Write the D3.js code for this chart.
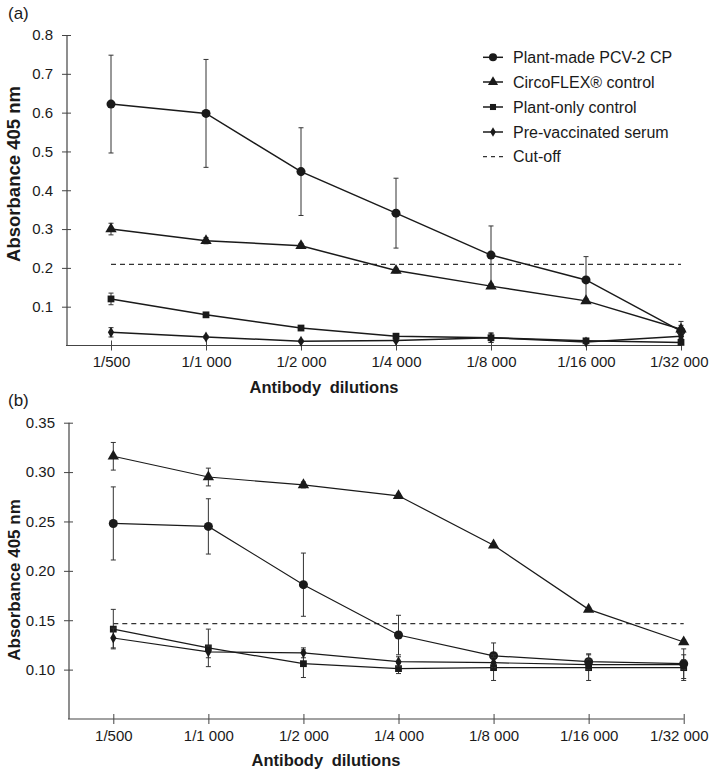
<!DOCTYPE html>
<html>
<head>
<meta charset="utf-8">
<script src="https://cdnjs.cloudflare.com/ajax/libs/d3/7.8.5/d3.min.js"></script>
<style>
  body { margin: 0; background: #fff; }
  svg { display: block; font-family: "Liberation Sans", Arial, sans-serif; }
</style>
</head>
<body>
<div id="chart"></div>
<script>
// categories shared by both panels
var dilutions = ["1/500", "1/1 000", "1/2 000", "1/4 000", "1/8 000", "1/16 000", "1/32 000"];
var seriesNames = ["Plant-made PCV-2 CP", "CircoFLEX® control", "Plant-only control", "Pre-vaccinated serum"];
var symbols = ["circle", "triangle", "square", "diamond"];

// panel (a) means and SDs
var aPcv   = [0.622, 0.598, 0.448, 0.341, 0.233, 0.169, 0.037];
var aCirco = [0.300, 0.270, 0.257, 0.193, 0.153, 0.115, 0.042];
var aPlant = [0.120, 0.079, 0.045, 0.024, 0.020, 0.012, 0.008];
var aPre   = [0.034, 0.022, 0.011, 0.013, 0.020, 0.009, 0.024];
var aPcvSd   = [0.126, 0.139, 0.113, 0.090, 0.075, 0.060, 0.025];
var aCircoSd = [0.015, 0.008, 0.006, 0.006, 0.005, 0.005, 0.010];
var aPlantSd = [0.015, 0.006, 0.004, 0.004, 0.012, 0.005, 0.004];
var aPreSd   = [0.012, 0.004, 0.003, 0.003, 0.012, 0.003, 0.006];
var aCutoff = 0.209;
var aTicks = [0.1, 0.2, 0.3, 0.4, 0.5, 0.6, 0.7, 0.8];

// panel (b) means and SDs
var bPcv   = [0.248, 0.245, 0.186, 0.135, 0.114, 0.108, 0.106];
var bCirco = [0.316, 0.295, 0.287, 0.276, 0.226, 0.161, 0.128];
var bPlant = [0.141, 0.122, 0.106, 0.101, 0.102, 0.102, 0.102];
var bPre   = [0.132, 0.118, 0.117, 0.108, 0.107, 0.105, 0.105];
var bPcvSd   = [0.037, 0.028, 0.032, 0.020, 0.013, 0.008, 0.015];
var bCircoSd = [0.014, 0.009, 0.003, 0.002, 0.002, 0.002, 0.002];
var bPlantSd = [0.020, 0.019, 0.014, 0.005, 0.013, 0.013, 0.013];
var bPreSd   = [0.010, 0.006, 0.005, 0.005, 0.005, 0.005, 0.005];
var bCutoff = 0.1466;
var bTicks = [0.10, 0.15, 0.20, 0.25, 0.30, 0.35];

var ink = "#1a1a1a";

var svg = d3.select("#chart").append("svg")
  .attr("width", 709)
  .attr("height", 769);

function symbolPath(name, size) {
  var t = { circle: d3.symbolCircle, triangle: d3.symbolTriangle, square: d3.symbolSquare, diamond: d3.symbolDiamond }[name];
  return d3.symbol().type(t).size(size)();
}
var symSize = { circle: 64, triangle: 56, square: 46, diamond: 34 };

function panel(opt) {
  var g = svg.append("g");
  var x = d3.scalePoint().domain(dilutions).range(opt.xRange);
  var y = d3.scaleLinear().domain(opt.yDomain).range(opt.yRange);

  // y axis
  var ya = g.append("g")
    .attr("transform", "translate(" + opt.axisX + ",0)")
    .call(d3.axisLeft(y).tickValues(opt.ticks).tickFormat(d3.format(opt.fmt)).tickSize(5).tickPadding(9).tickSizeOuter(0));
  ya.select(".domain").remove();
  ya.selectAll(".tick line").attr("x1", 4).attr("stroke", "#444");
  ya.selectAll("text").style("font-size", "15px").attr("fill", ink);
  g.append("line")
    .attr("x1", opt.axisX).attr("x2", opt.axisX)
    .attr("y1", y(opt.yDomain[1])).attr("y2", y(opt.yDomain[0]))
    .attr("stroke", "#444").attr("stroke-width", 1.2);

  // x axis
  var lastX = x(dilutions[dilutions.length - 1]);
  var xa = g.append("g")
    .attr("transform", "translate(0," + y(opt.yDomain[0]) + ")")
    .call(d3.axisBottom(x).tickSize(5).tickPadding(6).tickSizeOuter(0));
  xa.select(".domain").remove();
  xa.selectAll(".tick line").attr("y1", -5).attr("stroke", "#444");
  xa.selectAll("text").style("font-size", "15px").attr("fill", ink);
  // keep the last label inside the picture
  xa.selectAll(".tick").filter(function(d) { return d === dilutions[dilutions.length - 1]; })
    .select("text").attr("text-anchor", "end").attr("x", 708 - lastX);
  g.append("line")
    .attr("x1", opt.axisX - 1).attr("x2", lastX)
    .attr("y1", y(opt.yDomain[0])).attr("y2", y(opt.yDomain[0]))
    .attr("stroke", "#444").attr("stroke-width", 1.2);

  // cut-off
  g.append("line")
    .attr("x1", x(dilutions[0])).attr("x2", lastX)
    .attr("y1", y(opt.cutoff)).attr("y2", y(opt.cutoff))
    .attr("stroke", "#333").attr("stroke-width", 1.3)
    .attr("stroke-dasharray", "5,4");

  var line = d3.line().x(function(d, i) { return x(dilutions[i]); }).y(function(d) { return y(d); });

  opt.series.forEach(function(vals, s) {
    var sd = opt.sds[s];
    // error bars
    var eb = g.append("g").attr("stroke", "#333").attr("stroke-width", 1);
    vals.forEach(function(v, i) {
      var cx = x(dilutions[i]);
      var top = y(v + sd[i]), bot = y(Math.max(opt.yDomain[0], v - sd[i]));
      eb.append("line").attr("x1", cx).attr("x2", cx).attr("y1", top).attr("y2", bot);
      eb.append("line").attr("x1", cx - 2.5).attr("x2", cx + 2.5).attr("y1", top).attr("y2", top);
      eb.append("line").attr("x1", cx - 2.5).attr("x2", cx + 2.5).attr("y1", bot).attr("y2", bot);
    });
    g.append("path")
      .attr("d", line(vals))
      .attr("fill", "none")
      .attr("stroke", ink)
      .attr("stroke-width", opt.lw);
    g.selectAll(null).data(vals).enter().append("path")
      .attr("d", symbolPath(symbols[s], symSize[symbols[s]]))
      .attr("transform", function(d, i) { return "translate(" + x(dilutions[i]) + "," + y(d) + ")"; })
      .attr("fill", ink);
  });

  // titles
  g.append("text")
    .attr("x", 8).attr("y", opt.labelY)
    .style("font-size", "17px").attr("fill", ink)
    .text(opt.label);
  g.append("text")
    .attr("transform", "translate(" + opt.yTitleX + "," + opt.yTitleY + ") rotate(-90)")
    .attr("text-anchor", "middle").attr("dy", "0.35em")
    .style("font-size", opt.yTitleSize).style("font-weight", "bold").attr("fill", ink)
    .text("Absorbance 405 nm");
  g.append("text")
    .attr("x", opt.xTitleX).attr("y", opt.xTitleY)
    .attr("text-anchor", "middle")
    .style("font-size", "16.5px").style("font-weight", "bold").style("word-spacing", "4px").attr("fill", ink)
    .text("Antibody dilutions");
}

panel({
  xRange: [111, 681], yDomain: [0, 0.8], yRange: [345.5, 35], axisX: 67,
  ticks: aTicks, fmt: ".1f", cutoff: aCutoff, lw: 1.5,
  series: [aPcv, aCirco, aPlant, aPre], sds: [aPcvSd, aCircoSd, aPlantSd, aPreSd],
  label: "(a)", labelY: 19, yTitleX: 14, yTitleY: 174, yTitleSize: "18.5px",
  xTitleX: 324, xTitleY: 393
});

panel({
  xRange: [113.3, 683.7], yDomain: [0.05, 0.35], yRange: [719, 422.7], axisX: 69,
  ticks: bTicks, fmt: ".2f", cutoff: bCutoff, lw: 1.2,
  series: [bPcv, bCirco, bPlant, bPre], sds: [bPcvSd, bCircoSd, bPlantSd, bPreSd],
  label: "(b)", labelY: 406, yTitleX: 14, yTitleY: 580, yTitleSize: "17px",
  xTitleX: 326, xTitleY: 766
});

// legend (panel a)
var legend = svg.append("g");
var legY = [57.3, 82, 107, 132, 156.7];
seriesNames.forEach(function(name, i) {
  legend.append("line").attr("x1", 483).attr("x2", 503).attr("y1", legY[i]).attr("y2", legY[i])
    .attr("stroke", ink).attr("stroke-width", 1.5);
  legend.append("path").attr("d", symbolPath(symbols[i], symSize[symbols[i]] * 0.8))
    .attr("transform", "translate(493," + legY[i] + ")").attr("fill", ink);
  legend.append("text").attr("x", 513).attr("y", legY[i]).attr("dy", "0.35em")
    .style("font-size", "16px").attr("fill", ink).text(name);
});
legend.append("line").attr("x1", 483).attr("x2", 503).attr("y1", legY[4]).attr("y2", legY[4])
  .attr("stroke", "#333").attr("stroke-width", 1.3).attr("stroke-dasharray", "4,4");
legend.append("text").attr("x", 513).attr("y", legY[4]).attr("dy", "0.35em")
  .style("font-size", "16px").attr("fill", ink).text("Cut-off");
</script>
</body>
</html>
